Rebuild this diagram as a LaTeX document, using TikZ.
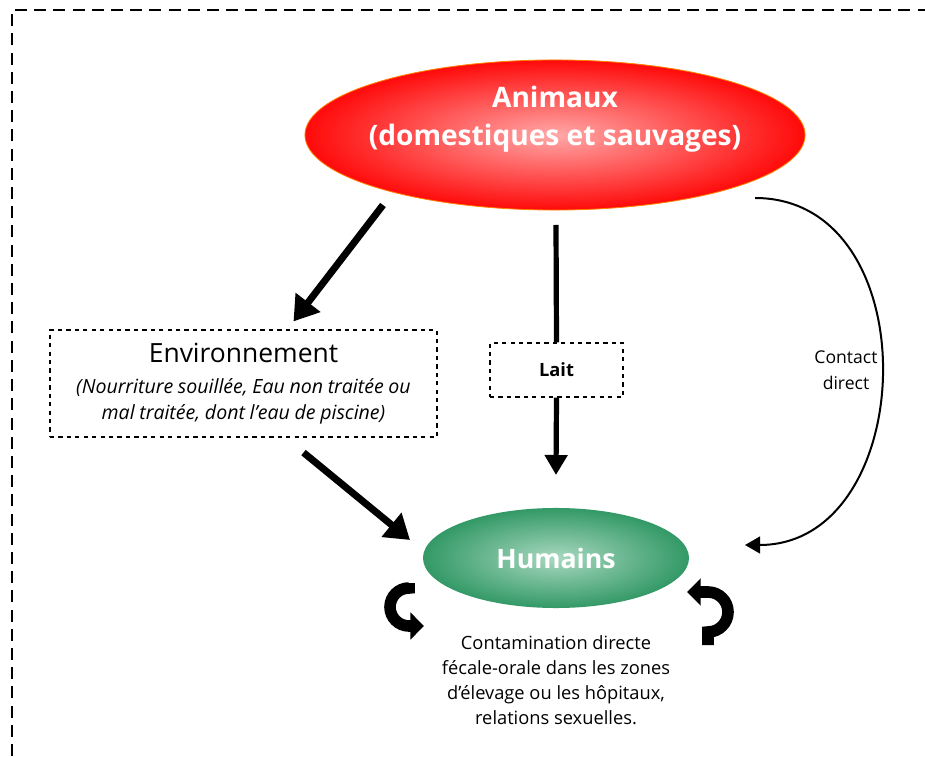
\documentclass[tikz,border=0pt]{standalone}
\usepackage{fontspec}
\setmainfont{Open Sans}
\usetikzlibrary{shapes.geometric,arrows.meta}

\definecolor{animin}{HTML}{FFA8A8}
\definecolor{animout}{HTML}{FF0A0A}
\definecolor{humin}{HTML}{A8D8C0}
\definecolor{humout}{HTML}{339966}

\begin{document}
\begin{tikzpicture}[x=0.025cm, y=0.025cm,
    bigarrow/.style={line width=1.75mm, -{Triangle[length=6mm,width=7.5mm]}},
    midarrow/.style={line width=1.3mm, -{Triangle[length=5mm,width=5.5mm]}},
    thinarrow/.style={line width=0.5mm, -{Triangle[length=3.75mm,width=4.2mm]}},
    curl/.style={line width=2.9mm, -{Triangle[length=3.4mm,width=6.6mm]}},
    dashbox/.style={draw, dashed, line width=0.8pt, align=center, inner sep=0pt}]
    \useasboundingbox (0,0) rectangle (925,756);

    % Dashed frame
    \draw[line width=0.55mm, dash pattern=on 3mm off 1.8mm] (12,0) -- (12,746) -- (925,746);

    % Sources and target
    \node[ellipse, draw=orange, line width=0.6pt, minimum width=12.5cm, minimum height=3.75cm,
          inner color=animin, outer color=animout, text=white,
          font=\bfseries\fontsize{20}{27}\selectfont] (animaux) at (555,621)
          {\makebox[0pt]{\raisebox{6.5pt}[0pt][0pt]{\begin{tabular}{@{}c@{}}Animaux\\(domestiques et sauvages)\end{tabular}}}};
    \node[ellipse, minimum width=6.65cm, minimum height=2.5cm,
          inner color=humin, outer color=humout, text=white,
          font=\bfseries\fontsize{19}{23}\selectfont] (humains) at (556,198) {Humains};

    % Intermediate boxes
    \node[dashbox, minimum width=9.675cm, minimum height=2.675cm, text width=9.6cm] (env) at (243.5,372.5)
          {{\fontsize{18.8}{22}\selectfont Environnement\par}\vspace{4pt}%
           {\fontsize{13.9}{18.4}\selectfont\itshape (Nourriture souillée, Eau non traitée ou\\mal traitée, dont l’eau de piscine)\par}};
    \node[dashbox, minimum width=3.325cm, minimum height=1.35cm,
          font=\bfseries\fontsize{13}{15}\selectfont] (lait) at (556.5,386) {Lait};

    % Labels
    \node[align=center, font=\fontsize{12.5}{18.4}\selectfont] (contact) at (846,386) {Contact\\direct};
    \node[align=center, font=\fontsize{13}{17.7}\selectfont] (contam) at (556,76)
          {Contamination directe\\fécale-orale dans les zones\\d’élevage ou les hôpitaux,\\relations sexuelles.};

    % Arrows
    \draw[bigarrow] ([shift={(-172,-70)}]animaux.center) -- ([shift={(50,8)}]env.north);
    \draw[bigarrow] ([shift={(60,-15)}]env.south) -- ([shift={(-146,18)}]humains.center);
    \draw[line width=1.3mm] ([shift={(1,-90)}]animaux.center) -- (lait.north);
    \draw[midarrow] (lait.south) -- ([shift={(0,83)}]humains.center);
    \draw[thinarrow] ([shift={(200,-63)}]animaux.center) .. controls +(175,0) and +(175,0) .. ([shift={(189,13)}]humains.center);

    % Human to human loops
    \draw[curl] (409,173) -- (409,168) arc (90:270:19) -- (424,130);
    \draw[curl] (708,111) -- (708,124) arc (-90:90:20) -- (687,164);
\end{tikzpicture}
\end{document}
